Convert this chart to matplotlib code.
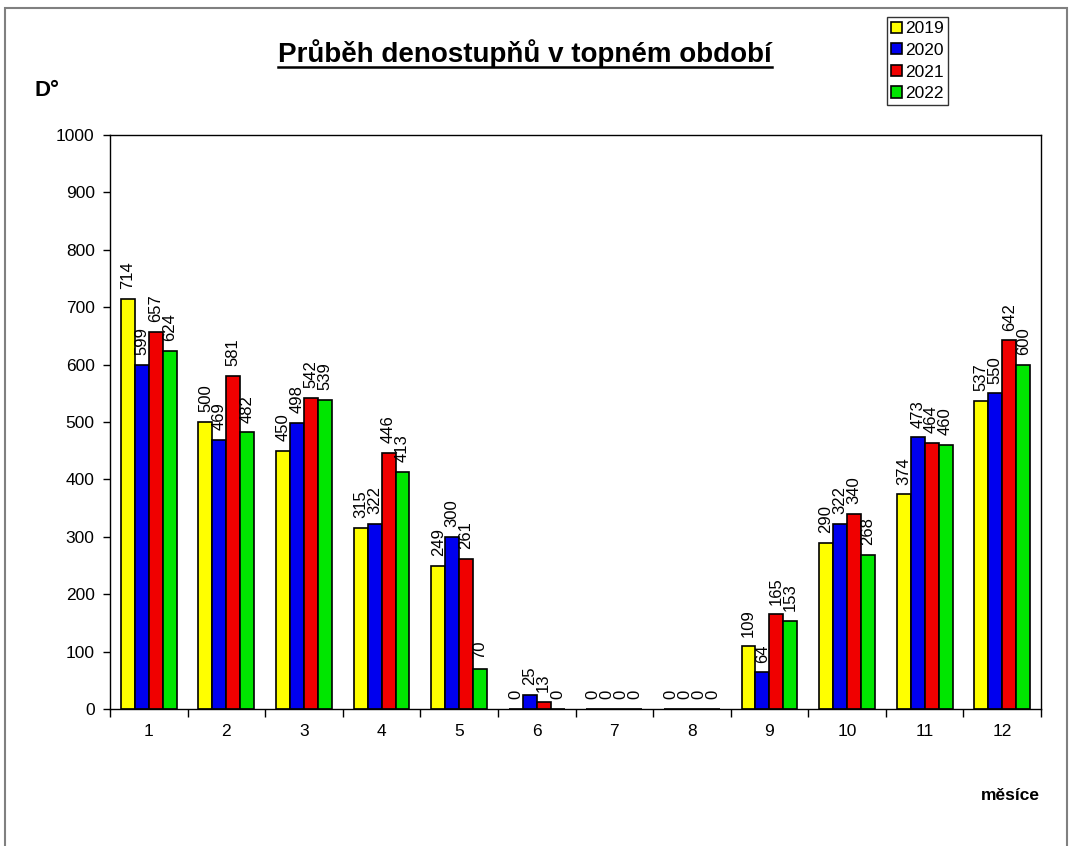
import numpy as np
import matplotlib.pyplot as plt
from matplotlib.patches import Rectangle

plt.rcParams["font.family"] = ["Liberation Sans", "DejaVu Sans"]

months = ["1", "2", "3", "4", "5", "6", "7", "8", "9", "10", "11", "12"]
years = ["2019", "2020", "2021", "2022"]

d2019 = [714, 500, 450, 315, 249, 0, 0, 0, 109, 290, 374, 537]
d2020 = [599, 469, 498, 322, 300, 25, 0, 0, 64, 322, 473, 550]
d2021 = [657, 581, 542, 446, 261, 13, 0, 0, 165, 340, 464, 642]
d2022 = [624, 482, 539, 413, 70, 0, 0, 0, 153, 268, 460, 600]

series = [d2019, d2020, d2021, d2022]
colors = ["#ffff00", "#0000ee", "#f00000", "#00e600"]

fig = plt.figure(figsize=(10.72, 8.46), dpi=100)

# outer chart border
fig.patches.append(
    Rectangle((5 / 1072, -0.01), 1062 / 1072, 1 - 8 / 846 + 0.01,
              transform=fig.transFigure, fill=False,
              edgecolor="#808080", linewidth=1.5)
)

ax = fig.add_axes([110 / 1072, 1 - 709 / 846, 931 / 1072, 574 / 846])

x = np.arange(len(months))
width = 0.18

for i, (vals, col, yr) in enumerate(zip(series, colors, years)):
    pos = x + (i - 1.5) * width
    ax.bar(pos, vals, width, color=col, edgecolor="black",
           linewidth=1.2, label=yr)
    for p, v in zip(pos, vals):
        ax.annotate(
            str(v),
            (p, v),
            xytext=(0, 7),
            textcoords="offset points",
            rotation=90,
            ha="center",
            va="bottom",
            fontsize=12
        )

ax.set_xlim(-0.5, len(months) - 0.5)
ax.set_ylim(0, 1000)
ax.set_yticks(np.arange(0, 1001, 100))

ax.set_xticks(x)
ax.set_xticklabels(months)
ax.set_xticks(np.arange(-0.5, len(months), 1), minor=True)
ax.tick_params(axis="x", which="major", length=0, pad=11, labelsize=12.5)
ax.tick_params(axis="x", which="minor", length=6, width=1)
ax.tick_params(axis="y", length=5, width=1, labelsize=12.5, pad=6)

for s in ax.spines.values():
    s.set_linewidth(1)
    s.set_color("black")

fig.text(525 / 1072, 1 - 62 / 846, "Průběh denostupňů v topném období",
         ha="center", va="baseline", fontsize=20, fontweight="bold")
# underline of the title
fig.add_artist(plt.Line2D([278 / 1072, 772 / 1072],
                          [1 - 67 / 846, 1 - 67 / 846],
                          color="black", linewidth=1.8))

fig.text(35 / 1072, 1 - 90 / 846, "D°", ha="left", va="center",
         fontsize=16, fontweight="bold")
fig.text(1040 / 1072, 1 - 795 / 846, "měsíce", ha="right", va="center",
         fontsize=12.5, fontweight="bold")

leg = fig.legend(
    loc="upper left",
    bbox_to_anchor=(887 / 1072, 1 - 17 / 846),
    frameon=True,
    fancybox=False,
    fontsize=12.5,
    handlelength=0.6,
    handleheight=0.6,
    handletextpad=0.2,
    borderpad=0.25,
    labelspacing=0.38,
    borderaxespad=0
)
leg.get_frame().set_edgecolor("black")
leg.get_frame().set_linewidth(1)

plt.savefig("out.png", dpi=100)
plt.close()
